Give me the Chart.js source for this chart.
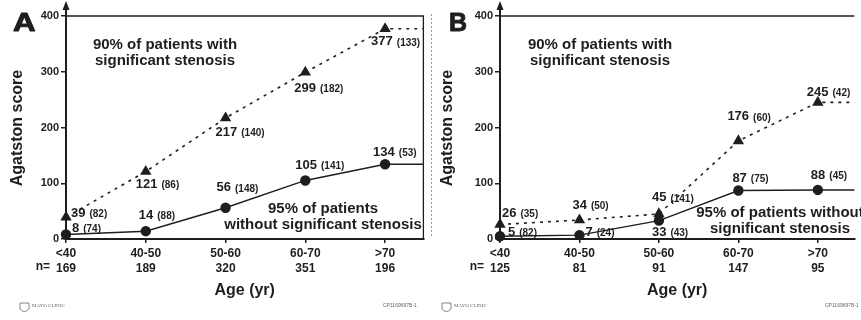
<!DOCTYPE html>
<html>
<head>
<meta charset="utf-8">
<script src="https://cdn.jsdelivr.net/npm/chart.js@4.4.1/dist/chart.umd.min.js"></script>
<style>
    html, body { margin: 0; padding: 0; background: #fff; }
    #wrap { position: relative; width: 861px; height: 320px; overflow: hidden; }
    #wrap canvas { position: absolute; top: 0; }
</style>
</head>
<body>
<div id="wrap">
    <canvas id="chartA" width="430" height="320" style="left:0"></canvas>
    <canvas id="chartB" width="431" height="320" style="left:430px"></canvas>
</div>
<script>
const ageGroups = ['<40', '40-50', '50-60', '60-70', '>70'];
const yTicks = [0, 100, 200, 300, 400];

// panel A
const nA = [169, 189, 320, 351, 196];
const stenosisA = [39, 121, 217, 299, 377];
const stenosisCountA = [82, 86, 140, 182, 133];
const noStenosisA = [8, 14, 56, 105, 134];
const noStenosisCountA = [74, 88, 148, 141, 53];

// panel B
const nB = [125, 81, 91, 147, 95];
const stenosisB = [26, 34, 45, 176, 245];
const stenosisCountB = [35, 50, 141, 60, 42];
const noStenosisB = [5, 7, 33, 87, 88];
const noStenosisCountB = [82, 24, 43, 75, 45];

// label placement relative to each point: [dx to left edge, dy to middle]
const stenosisOffsetsA = [[5, -4], [-10, 13], [-10, 14], [-11, 16], [-14, 13]];
const noStenosisOffsetsA = [[6, -6], [-7, -16], [-9, -20], [-10, -15], [-12, -12]];
const stenosisOffsetsB = [[2, -11], [-7, -15], [-7, -16], [-11, -24], [-11, -10]];
const noStenosisOffsetsB = [[8, -4], [6, -3], [-7, 12], [-6, -12], [-7, -15]];

const INK = '#1e1e1e';
const FONT = '"Liberation Sans", Arial, sans-serif';

function seriesPoints(values, xMax) {
    const pts = values.map((v, i) => ({ x: i, y: v }));
    pts.push({ x: xMax, y: values[values.length - 1] });
    return pts;
}

const decor = {
    id: 'decor',
    afterDraw(chart, args, opts) {
        const { ctx, chartArea: a } = chart;
        ctx.save();
        ctx.strokeStyle = INK;
        ctx.fillStyle = INK;

        if (opts.separator) {
            ctx.strokeStyle = '#9a9a9a';
            ctx.lineWidth = 1;
            ctx.setLineDash([2, 2]);
            ctx.beginPath(); ctx.moveTo(1.5, 14); ctx.lineTo(1.5, 236); ctx.stroke();
            ctx.setLineDash([]);
            ctx.strokeStyle = INK;
        }

        // frame
        ctx.lineWidth = 1.3;
        ctx.beginPath();
        ctx.moveTo(a.left, a.top);
        ctx.lineTo(a.right, a.top);
        if (opts.rightBorder) ctx.lineTo(a.right, a.bottom);
        ctx.stroke();

        // y axis arrow
        ctx.lineWidth = 2;
        ctx.beginPath(); ctx.moveTo(a.left, a.top); ctx.lineTo(a.left, 8); ctx.stroke();
        ctx.beginPath();
        ctx.moveTo(a.left, 1); ctx.lineTo(a.left - 3.5, 10); ctx.lineTo(a.left + 3.5, 10);
        ctx.closePath(); ctx.fill();

        // panel letter
        ctx.font = 'bold 25px ' + FONT;
        ctx.textBaseline = 'alphabetic';
        ctx.textAlign = 'left';
        ctx.save();
        ctx.translate(opts.letterX, 31);
        ctx.scale(opts.letterScale, 1);
        ctx.lineWidth = 0.9;
        ctx.lineJoin = 'round';
        ctx.fillText(opts.letter, 0, 0);
        ctx.strokeText(opts.letter, 0, 0);
        ctx.restore();

        // axis titles
        ctx.font = 'bold 16px ' + FONT;
        ctx.textAlign = 'center';
        ctx.textBaseline = 'middle';
        ctx.fillText('Age (yr)', (a.left + a.right) / 2, 291);
        ctx.save();
        ctx.translate(18, 128);
        ctx.rotate(-Math.PI / 2);
        ctx.fillText('Agatston score', 0, 0);
        ctx.restore();

        // n=
        ctx.font = 'bold 12px ' + FONT;
        ctx.textAlign = 'right';
        ctx.fillText('n=', a.left - 16, 267);

        // annotations
        ctx.font = 'bold 15px ' + FONT;
        ctx.textAlign = 'center';
        for (const note of opts.notes) {
            note.lines.forEach((line, i) => ctx.fillText(line, note.x, note.y + i * 16));
        }

        // point labels
        ctx.textAlign = 'left';
        chart.data.datasets.forEach((ds, di) => {
            const meta = chart.getDatasetMeta(di);
            ds.labelValues.forEach((v, i) => {
                const el = meta.data[i];
                const [dx, dy] = ds.labelOffsets[i];
                const lx = el.x + dx, ly = el.y + dy;
                ctx.font = 'bold 13px ' + FONT;
                ctx.fillText(String(v), lx, ly);
                const w = ctx.measureText(String(v)).width;
                ctx.font = 'bold 10px ' + FONT;
                ctx.fillText('(' + ds.labelCounts[i] + ')', lx + w + 4, ly + 1);
            });
        });

        // footer marks
        ctx.fillStyle = '#666';
        ctx.strokeStyle = '#666';
        ctx.lineWidth = 0.8;
        ctx.beginPath();
        ctx.moveTo(opts.logoX, 303); ctx.lineTo(opts.logoX + 9, 303);
        ctx.lineTo(opts.logoX + 9, 309); ctx.quadraticCurveTo(opts.logoX + 4.5, 314, opts.logoX, 309);
        ctx.closePath(); ctx.stroke();
        ctx.font = '5px "Liberation Serif", serif';
        ctx.textAlign = 'left';
        ctx.fillText('MAYO CLINIC', opts.logoX + 12, 306);
        ctx.font = '5px ' + FONT;
        ctx.fillText('CP1169697B-1', opts.codeX, 306);
        ctx.restore();
    }
};

function makePanel(id, cfg) {
    const xMax = cfg.xMax;
    return new Chart(document.getElementById(id), {
        type: 'line',
        data: {
            datasets: [
                {
                    data: seriesPoints(cfg.stenosis, xMax),
                    labelValues: cfg.stenosis,
                    labelCounts: cfg.stenosisCount,
                    labelOffsets: cfg.stenosisOffsets,
                    borderColor: INK,
                    backgroundColor: INK,
                    borderWidth: 1.6,
                    borderDash: [3, 5],
                    pointStyle: 'triangle',
                    pointRadius: [5, 5, 5, 5, 5, 0],
                    tension: 0,
                    clip: false
                },
                {
                    data: seriesPoints(cfg.noStenosis, xMax),
                    labelValues: cfg.noStenosis,
                    labelCounts: cfg.noStenosisCount,
                    labelOffsets: cfg.noStenosisOffsets,
                    borderColor: INK,
                    backgroundColor: INK,
                    borderWidth: 1.4,
                    pointStyle: 'circle',
                    pointRadius: [4.5, 4.5, 4.5, 4.5, 4.5, 0],
                    tension: 0,
                    clip: false
                }
            ]
        },
        options: {
            responsive: false,
            animation: false,
            layout: { padding: { top: 16, right: cfg.padRight, left: 0, bottom: 0 } },
            plugins: {
                legend: { display: false },
                tooltip: { enabled: false },
                decor: cfg.decor
            },
            scales: {
                x: {
                    type: 'linear',
                    min: 0,
                    max: xMax,
                    afterBuildTicks: s => { s.ticks = ageGroups.map((_, i) => ({ value: i })); },
                    afterFit: s => { s.height = 81; },
                    ticks: {
                        autoSkip: false,
                        maxRotation: 0,
                        padding: 3,
                        color: INK,
                        font: { family: FONT, size: 12, weight: 'bold', lineHeight: 1.25 },
                        callback: v => [ageGroups[v], String(cfg.n[v])]
                    },
                    grid: { drawOnChartArea: false, tickLength: 4, color: INK, lineWidth: 1.5 },
                    border: { display: true, color: INK, width: 2 }
                },
                y: {
                    min: 0,
                    max: 400,
                    afterBuildTicks: s => { s.ticks = yTicks.map(v => ({ value: v })); },
                    afterFit: s => { s.width = cfg.axisLeft; },
                    ticks: {
                        padding: 2,
                        color: INK,
                        font: { family: FONT, size: 11, weight: 'bold' }
                    },
                    grid: { drawOnChartArea: false, tickLength: 5, color: INK, lineWidth: 1.5 },
                    border: { display: true, color: INK, width: 2 }
                }
            }
        },
        plugins: [decor]
    });
}

makePanel('chartA', {
    xMax: 4.48, padRight: 2, axisLeft: 66, n: nA,
    stenosis: stenosisA, stenosisCount: stenosisCountA, stenosisOffsets: stenosisOffsetsA,
    noStenosis: noStenosisA, noStenosisCount: noStenosisCountA, noStenosisOffsets: noStenosisOffsetsA,
    decor: {
        letter: 'A', letterX: 13, letterScale: 1.25, rightBorder: true, separator: false,
        logoX: 20, codeX: 383,
        notes: [
            { lines: ['90% of patients with', 'significant stenosis'], x: 165, y: 45 },
            { lines: ['95% of patients', 'without significant stenosis'], x: 323, y: 209 }
        ]
    }
});

makePanel('chartB', {
    xMax: 4.46, padRight: 0, axisLeft: 70, n: nB,
    stenosis: stenosisB, stenosisCount: stenosisCountB, stenosisOffsets: stenosisOffsetsB,
    noStenosis: noStenosisB, noStenosisCount: noStenosisCountB, noStenosisOffsets: noStenosisOffsetsB,
    decor: {
        letter: 'B', letterX: 19, letterScale: 1.0, rightBorder: false, separator: true,
        logoX: 12, codeX: 395,
        notes: [
            { lines: ['90% of patients with', 'significant stenosis'], x: 170, y: 45 },
            { lines: ['95% of patients without', 'significant stenosis'], x: 350, y: 213 }
        ]
    }
});
</script>
</body>
</html>
